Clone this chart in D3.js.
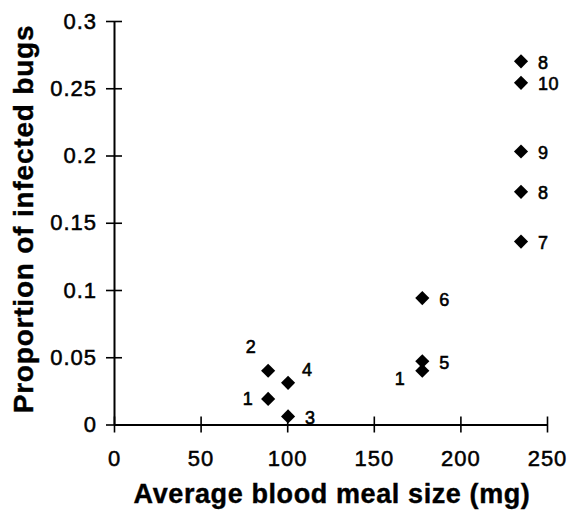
<!DOCTYPE html>
<html>
<head>
<meta charset="utf-8">
<script src="https://cdn.jsdelivr.net/npm/d3@7"></script>
<style>
  body { margin: 0; background: #fff; }
  svg { display: block; }
</style>
</head>
<body>
<div id="chart"></div>
<script>
// data
var mealSize   = [89, 89, 100.5, 100.5, 178, 178, 178, 235, 235, 235, 235, 235];
var proportion = [0.040, 0.019, 0.031, 0.006, 0.040, 0.047, 0.094, 0.136, 0.173, 0.203, 0.254, 0.270];
var pointLabel = ["2", "1", "4", "3", "1", "5", "6", "7", "8", "9", "10", "8"];
var labelSide  = ["ul", "l", "ur", "r", "dl", "r", "r", "r", "r", "r", "r", "r"];
var xTicks = [0, 50, 100, 150, 200, 250];
var yTicks = [0, 0.05, 0.1, 0.15, 0.2, 0.25, 0.3];

var width = 569, height = 514;

var svg = d3.select("#chart").append("svg")
    .attr("width", width)
    .attr("height", height);

var x = d3.scaleLinear().domain([0, 250]).range([114, 547]);
var y = d3.scaleLinear().domain([0, 0.3]).range([424.5, 21]);

var font = "'Liberation Sans', Arial, Helvetica, sans-serif";

// x axis
var xAxis = d3.axisBottom(x)
    .tickValues(xTicks)
    .tickSizeInner(8)
    .tickSizeOuter(0)
    .tickPadding(18)
    .tickFormat(d3.format("d"));

var gx = svg.append("g")
    .attr("transform", "translate(0," + y(0) + ")")
    .call(xAxis);
gx.select(".domain").attr("stroke", "#000").attr("stroke-width", 2);
gx.selectAll(".tick line").attr("y1", -8).attr("stroke", "#000").attr("stroke-width", 1.6);
gx.selectAll(".tick text")
    .attr("fill", "#000")
    .attr("stroke", "#000")
    .attr("stroke-width", 0.5)
    .style("font-family", font)
    .style("font-size", "22px")
    .style("letter-spacing", "1px");

// y axis
var yAxis = d3.axisLeft(y)
    .tickValues(yTicks)
    .tickSizeInner(8)
    .tickSizeOuter(0)
    .tickPadding(9)
    .tickFormat(d3.format("~g"));

var gy = svg.append("g")
    .attr("transform", "translate(" + x(0) + ",0)")
    .call(yAxis);
gy.select(".domain").attr("stroke", "#000").attr("stroke-width", 2);
gy.selectAll(".tick line").attr("x1", 8).attr("stroke", "#000").attr("stroke-width", 1.6);
gy.selectAll(".tick text")
    .attr("fill", "#000")
    .attr("stroke", "#000")
    .attr("stroke-width", 0.5)
    .style("font-family", font)
    .style("font-size", "22px")
    .style("letter-spacing", "1px");

// axis titles
svg.append("text")
    .attr("x", 332)
    .attr("y", 503)
    .attr("text-anchor", "middle")
    .attr("stroke", "#000")
    .attr("stroke-width", 0.4)
    .style("font-family", font)
    .style("font-size", "27px")
    .style("font-weight", "bold")
    .style("letter-spacing", "0.6px")
    .text("Average blood meal size (mg)");

svg.append("text")
    .attr("transform", "translate(33,219) rotate(-90)")
    .attr("text-anchor", "middle")
    .attr("stroke", "#000")
    .attr("stroke-width", 0.4)
    .style("font-family", font)
    .style("font-size", "28px")
    .style("font-weight", "bold")
    .style("letter-spacing", "0.8px")
    .text("Proportion of infected bugs");

// points
var points = mealSize.map(function(d, i) {
    return { x: d, y: proportion[i], label: pointLabel[i], side: labelSide[i] };
});

var diamond = d3.symbol().type(d3.symbolSquare).size(100);

svg.append("g").selectAll("path")
    .data(points)
    .enter().append("path")
    .attr("d", diamond)
    .attr("transform", function(d) {
        return "translate(" + x(d.x) + "," + y(d.y) + ") rotate(45)";
    })
    .attr("fill", "#000");

// label offsets relative to each marker
var offsets = {
    r:  { dx: 17,  dy: 1,   anchor: "start" },
    ur: { dx: 14,  dy: -13, anchor: "start" },
    l:  { dx: -15, dy: 0,   anchor: "end" },
    ul: { dx: -12, dy: -24, anchor: "end" },
    dl: { dx: -17, dy: 8,   anchor: "end" }
};

svg.append("g").selectAll("text")
    .data(points)
    .enter().append("text")
    .attr("x", function(d) { return x(d.x) + offsets[d.side].dx; })
    .attr("y", function(d) { return y(d.y) + offsets[d.side].dy; })
    .attr("dy", "0.36em")
    .attr("text-anchor", function(d) { return offsets[d.side].anchor; })
    .attr("fill", "#000")
    .attr("stroke", "#000")
    .attr("stroke-width", 0.6)
    .style("font-family", font)
    .style("font-size", "18px")
    .style("letter-spacing", "0.5px")
    .text(function(d) { return d.label; });
</script>
</body>
</html>
